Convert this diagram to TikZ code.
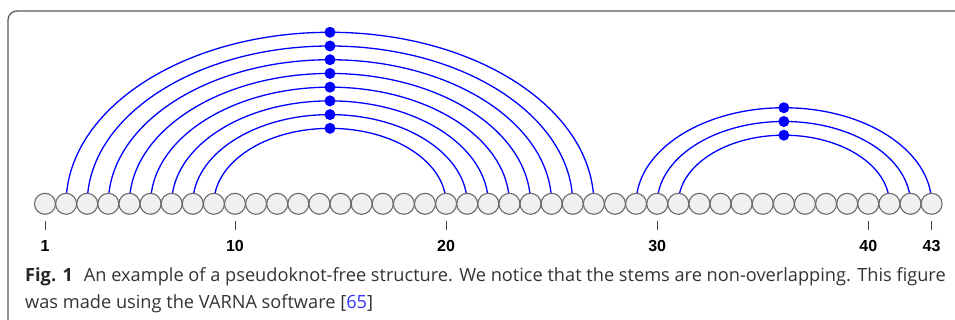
\documentclass[tikz,border=0pt]{standalone}
\usepackage{fontspec}
\setmainfont{Open Sans}
\newfontfamily\numfont{Liberation Sans}
\usetikzlibrary{backgrounds}
\definecolor{arcblue}{HTML}{0000FF}
\definecolor{basefill}{HTML}{F0F0F0}
\definecolor{basegray}{HTML}{6A6A6A}
\definecolor{framegray}{HTML}{5A5A5A}
\definecolor{captext}{HTML}{333333}
\definecolor{citeblue}{HTML}{3333FF}
\begin{document}
\begin{tikzpicture}[x=1pt,y=-1pt,
  base/.style={circle,draw=basegray,fill=basefill,line width=1.1pt,minimum size=21pt,inner sep=0pt},
  pairarc/.style={draw=arcblue,line width=1.3pt},
  stemdot/.style={circle,fill=arcblue,minimum size=11pt,inner sep=0pt},
  tickline/.style={draw=black!75,line width=0.9pt},
  numlabel/.style={font=\numfont\bfseries\fontsize{16}{18}\selectfont,text=black,inner sep=0pt},
  caption/.style={anchor=base west,inner sep=0pt,text=captext,font=\fontsize{18.2}{22}\selectfont}]
\useasboundingbox (0,0) rectangle (955,320);
% frame
\draw[framegray,line width=1.3pt,rounded corners=9pt] (8,320) -- (8,11) -- (955,11);
% bases
\foreach \i in {1,...,43}
  \node[base] (n\i) at ({45+(\i-1)*21.11},203.8) {};
% arcs behind the bases
\begin{scope}[on background layer]
\foreach \a/\b in {2/27,3/26,4/25,5/24,6/23,7/22,8/21,9/20,29/43,30/42,31/41}
  \draw[pairarc] (n\a.center) arc[start angle=180,end angle=0,
     x radius={(\b-\a)*21.11/2*1pt}, y radius={0.65*(\b-\a)*21.11/2*1pt}];
\end{scope}
% dots at arc tops
\foreach \a/\b in {2/27,3/26,4/25,5/24,6/23,7/22,8/21,9/20,29/43,30/42,31/41}
  \node[stemdot] (d\a) at ({45+((\a+\b)/2-1)*21.11},{203.8-0.65*(\b-\a)*21.11/2}) {};
% ticks and numbers
\foreach \i in {1,10,20,30,40,43}{
  \draw[tickline] ([yshift=-6.4pt]n\i.south) -- ([yshift=-14.8pt]n\i.south);
  \node[numlabel] (l\i) at ([yshift=-42.6pt]n\i.center) {\i};
}
% caption
\node[caption] (cap1) at (25,281.7) {\textcolor{black!85}{\textbf{Fig. 1}}\hspace{11pt}An example of a pseudoknot-free structure. We notice that the stems are non-overlapping. This figure};
\node[caption] (cap2) at (25,308) {was made using the VARNA software [\textcolor{citeblue}{65}]};
\end{tikzpicture}
\end{document}
